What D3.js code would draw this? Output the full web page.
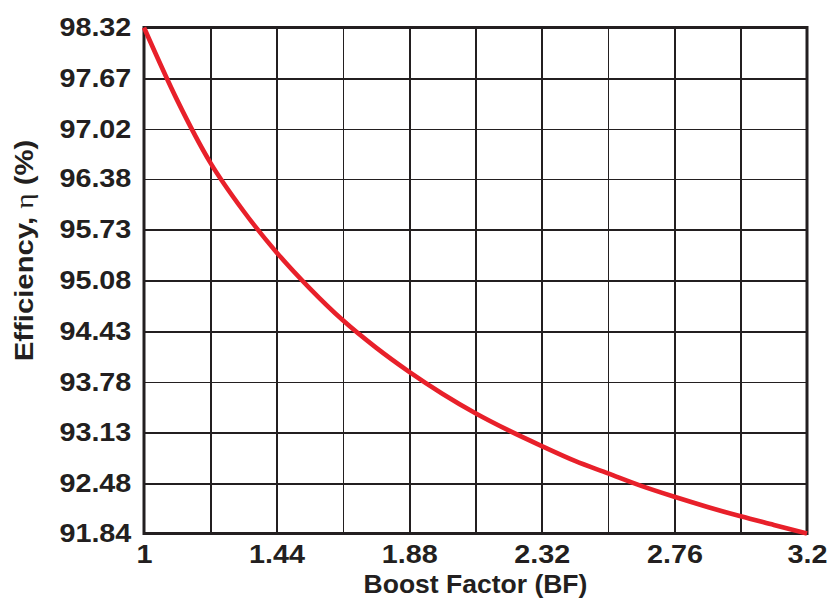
<!DOCTYPE html>
<html>
<meta charset="utf-8">
<style>
body { margin: 0; background: #fff; }
text { font-family: "Liberation Sans", Arial, sans-serif; font-weight: bold; fill: #231f20; }
.grid line { stroke: #231f20; stroke-width: 1.6px; shape-rendering: crispEdges; }
.frame { fill: none; stroke: #231f20; stroke-width: 3px; }
.curve { fill: none; stroke: #e8202a; stroke-width: 4.6px; }
</style>
<body>
<script src="https://d3js.org/d3.v7.min.js"></script>
<script>

// boost factor vs efficiency
var boost = [1, 1.11, 1.22, 1.33, 1.44, 1.55, 1.66, 1.77, 1.88, 1.99, 2.10,
             2.21, 2.32, 2.43, 2.54, 2.65, 2.76, 2.87, 2.98, 3.09, 3.2];
var eff   = [98.32, 97.39, 96.59, 95.97, 95.44, 94.98, 94.57, 94.22, 93.91, 93.63, 93.38,
             93.16, 92.96, 92.77, 92.61, 92.45, 92.31, 92.18, 92.06, 91.95, 91.84];

var xTicks = ["1", "1.44", "1.88", "2.32", "2.76", "3.2"];
var yTicks = ["91.84", "92.48", "93.13", "93.78", "94.43", "95.08", "95.73", "96.38", "97.02", "97.67", "98.32"];

var W = 833, H = 610;
var m = {top: 27.5, right: 26, bottom: 76.5, left: 144};
var w = W - m.left - m.right, h = H - m.top - m.bottom;

var svg = d3.select("body").append("svg").attr("width", W).attr("height", H);
var g = svg.append("g").attr("transform", "translate(" + m.left + "," + m.top + ")");

var x = d3.scaleLinear().domain([1, 3.2]).range([0, w]);
var y = d3.scaleLinear().domain([91.84, 98.32]).range([h, 0]);

// gridlines: x every 0.22, y at each label
var xGrid = d3.range(11).map(i => 1 + i * 0.22);
g.append("g").attr("class", "grid")
  .call(d3.axisBottom(x).tickValues(xGrid).tickSize(-h).tickFormat(""))
  .attr("transform", "translate(0," + h + ")")
  .call(a => a.select(".domain").remove());
g.append("g").attr("class", "grid")
  .call(d3.axisLeft(y).tickValues(yTicks.map(Number)).tickSize(-w).tickFormat(""))
  .call(a => a.select(".domain").remove());

g.append("rect").attr("class", "frame").attr("width", w).attr("height", h);

// tick labels (the original type is a bit wide, hence the scale)
var xa = g.append("g").attr("transform", "translate(0," + h + ")")
  .call(d3.axisBottom(x).tickValues(xTicks.map(Number)).tickSize(0).tickPadding(12)
    .tickFormat((d, i) => xTicks[i]));
xa.select(".domain").remove();
xa.selectAll("text").style("font-size", "25px").attr("transform", "scale(1.15,1)");

var ya = g.append("g")
  .call(d3.axisLeft(y).tickValues(yTicks.map(Number)).tickSize(0).tickPadding(11)
    .tickFormat((d, i) => yTicks[i]));
ya.select(".domain").remove();
ya.selectAll("text").style("font-size", "25px").attr("transform", "scale(1.15,1)");
svg.selectAll(".tick text").attr("font-family", null).attr("fill", null);

// the curve
var line = d3.line().x((d, i) => x(boost[i])).y(d => y(d)).curve(d3.curveMonotoneX);
g.append("path").attr("class", "curve").attr("d", line(eff));

// axis titles
svg.append("text").attr("x", m.left + w / 2).attr("y", 593)
  .attr("text-anchor", "middle").style("font-size", "26.5px")
  .text("Boost Factor (BF)");

var yt = svg.append("text")
  .attr("transform", "translate(33," + (m.top + h / 2 - 30) + ") rotate(-90) scale(1.15,1)")
  .attr("text-anchor", "middle").style("font-size", "25.5px");
yt.append("tspan").text("Efficiency, ");
yt.append("tspan").style("font-weight", "normal").style("font-family", "'Liberation Serif', serif").text("η");
yt.append("tspan").text(" (%)");

</script>
</body>
</html>
